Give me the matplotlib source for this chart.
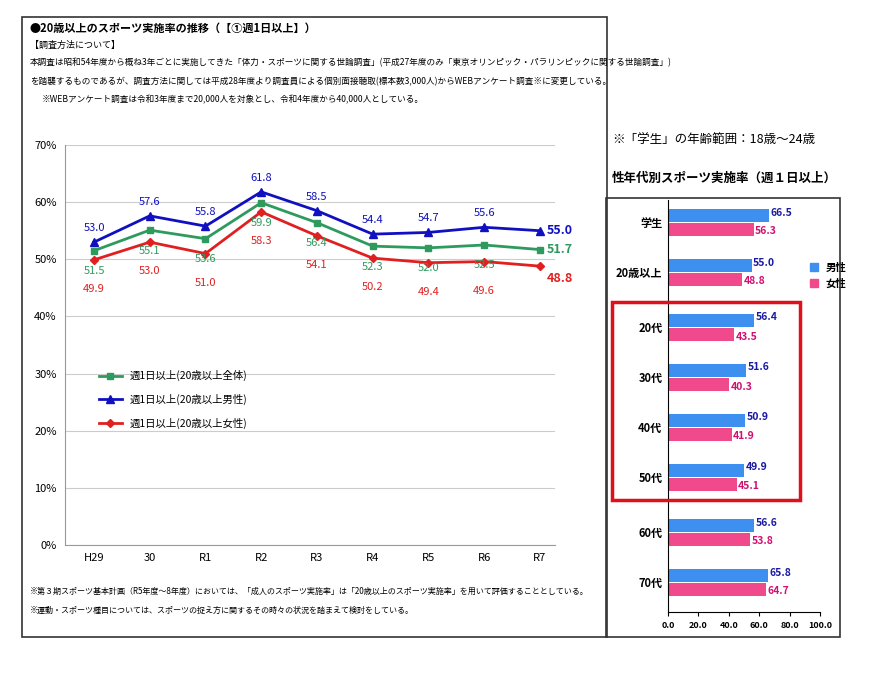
import matplotlib
matplotlib.use("Agg")
import matplotlib.pyplot as plt
from matplotlib.patches import Rectangle
from matplotlib.lines import Line2D

plt.rcParams['font.family'] = ['Noto Sans CJK JP', 'DejaVu Sans']

years = ["H29", "30", "R1", "R2", "R3", "R4", "R5", "R6", "R7"]
total = [51.5, 55.1, 53.6, 59.9, 56.4, 52.3, 52.0, 52.5, 51.7]
male = [53.0, 57.6, 55.8, 61.8, 58.5, 54.4, 54.7, 55.6, 55.0]
female = [49.9, 53.0, 51.0, 58.3, 54.1, 50.2, 49.4, 49.6, 48.8]

groups = ["学生", "20歳以上", "20代", "30代", "40代", "50代", "60代", "70代"]
g_male = [66.5, 55.0, 56.4, 51.6, 50.9, 49.9, 56.6, 65.8]
g_female = [56.3, 48.8, 43.5, 40.3, 41.9, 45.1, 53.8, 64.7]
g_pos = [0, 1, 2.1, 3.1, 4.1, 5.1, 6.2, 7.2]

W, H = 870, 674
fig = plt.figure(figsize=(8.7, 6.74), dpi=100)

def fx(px): return px / W
def fy(py): return 1 - py / H

# left frame
fig.patches.append(Rectangle((fx(22), fy(637)), fx(585), (620) / H, transform=fig.transFigure,
                             fill=False, edgecolor='#333333', lw=1.2))
fig.text(fx(30), fy(28), "●20歳以上のスポーツ実施率の推移（【①週1日以上】）", fontsize=8, fontweight='bold', va='center')
fig.text(fx(30), fy(45), "【調査方法について】", fontsize=6.5, va='center')
fig.text(fx(30), fy(63), "本調査は昭和54年度から概ね3年ごとに実施してきた「体力・スポーツに関する世論調査」(平成27年度のみ「東京オリンピック・パラリンピックに関する世論調査」)",
         fontsize=6.2, va='center')
fig.text(fx(30), fy(82), "を踏襲するものであるが、調査方法に関しては平成28年度より調査員による個別面接聴取(標本数3,000人)からWEBアンケート調査※に変更している。",
         fontsize=6.2, va='center')
fig.text(fx(42), fy(100), "※WEBアンケート調査は令和3年度まで20,000人を対象とし、令和4年度から40,000人としている。", fontsize=6.2, va='center')
fig.text(fx(30), fy(591), "※第３期スポーツ基本計画（R5年度～8年度）においては、「成人のスポーツ実施率」は「20歳以上のスポーツ実施率」を用いて評価することとしている。",
         fontsize=5.8, va='center')
fig.text(fx(30), fy(610), "※運動・スポーツ種目については、スポーツの捉え方に関するその時々の状況を踏まえて検討をしている。", fontsize=5.8, va='center')

ax = fig.add_axes([fx(65), fy(545), fx(490), 400 / H])
x = list(range(len(years)))
c_t, c_m, c_f = '#2e9a5e', '#1010c0', '#e02020'
ax.plot(x, total, color=c_t, marker='s', ms=5, lw=2, label="週1日以上(20歳以上全体)")
ax.plot(x, male, color=c_m, marker='^', ms=6, lw=2, label="週1日以上(20歳以上男性)")
ax.plot(x, female, color=c_f, marker='D', ms=4, lw=2, label="週1日以上(20歳以上女性)")
for i in x[:-1]:
    ax.text(i, male[i] + 1.6, f"{male[i]:.1f}", color=c_m, ha='center', va='bottom', fontsize=8)
    ax.text(i, total[i] - 2.7, f"{total[i]:.1f}", color=c_t, ha='center', va='top', fontsize=8)
    ax.text(i, female[i] - 4.2, f"{female[i]:.1f}", color=c_f, ha='center', va='top', fontsize=8)
i = x[-1]
ax.text(i + 0.12, male[i], f"{male[i]:.1f}", color=c_m, ha='left', va='center', fontsize=9, fontweight='bold')
ax.text(i + 0.12, total[i], f"{total[i]:.1f}", color=c_t, ha='left', va='center', fontsize=9, fontweight='bold')
ax.text(i + 0.12, female[i] - 1, f"{female[i]:.1f}", color=c_f, ha='left', va='top', fontsize=9, fontweight='bold')
ax.set_xlim(-0.52, 8.27)
ax.set_ylim(0, 70)
ax.set_yticks(range(0, 71, 10))
ax.set_yticklabels([f"{v}%" for v in range(0, 71, 10)], fontsize=8)
ax.set_xticks(x)
ax.set_xticklabels(years, fontsize=8)
ax.tick_params(length=0, pad=6)
ax.grid(axis='y', color='#cccccc', lw=0.8)
for s in ['top', 'right']:
    ax.spines[s].set_visible(False)
ax.spines['left'].set_color('#999999')
ax.spines['bottom'].set_color('#999999')
ax.set_axisbelow(True)
ax.legend(loc='upper left', bbox_to_anchor=(0.05, 0.46), frameon=False, fontsize=7.5,
          handlelength=2.2, labelspacing=1.2)

# right side
fig.text(fx(612), fy(140), "※「学生」の年齢範囲：18歳～24歳", fontsize=9, va='center')
fig.text(fx(612), fy(178), "性年代別スポーツ実施率（週１日以上）", fontsize=9, fontweight='bold', va='center')
fig.patches.append(Rectangle((fx(606), fy(637)), fx(234), 439 / H, transform=fig.transFigure,
                             fill=False, edgecolor='#333333', lw=1.2))
fig.patches.append(Rectangle((fx(612), fy(500)), fx(188), 198 / H, transform=fig.transFigure,
                             fill=False, edgecolor='#e0101a', lw=2.5))

bx = fig.add_axes([fx(668), fy(612), fx(152), 412 / H])
cm, cf = '#3d8ff0', '#f04a8c'
bh = 0.26
ym = [p - 0.14 for p in g_pos]
yf = [p + 0.14 for p in g_pos]
bx.barh(ym, g_male, height=bh, color=cm)
bx.barh(yf, g_female, height=bh, color=cf)
for a, b, v1, v2 in zip(ym, yf, g_male, g_female):
    bx.text(v1 + 1, a - 0.05, f"{v1:.1f}", color='#1a1aa0', fontsize=7.5, fontweight='bold', va='center')
    bx.text(v2 + 1, b + 0.05, f"{v2:.1f}", color='#d01070', fontsize=7.5, fontweight='bold', va='center')
bx.set_ylim(7.8, -0.44)
bx.set_xlim(0, 100)
bx.set_yticks(g_pos)
bx.set_yticklabels(groups, fontsize=8, fontweight='bold')
bx.set_xticks(range(0, 101, 20))
bx.set_xticklabels([f"{v:.1f}" for v in range(0, 101, 20)], fontsize=6.5, fontweight='bold')
bx.tick_params(axis='y', length=0, pad=4)
bx.tick_params(axis='x', length=3)
for s in ['top', 'right']:
    bx.spines[s].set_visible(False)
handles = [Line2D([], [], marker='s', ls='', color=cm, ms=6), Line2D([], [], marker='s', ls='', color=cf, ms=6)]
bx.legend(handles, ["男性", "女性"], loc='upper left', bbox_to_anchor=(0.83, 0.87), frameon=False,
          handletextpad=0.1, labelspacing=0.5, prop={'weight': 'bold', 'size': 7.5})

fig.savefig("out.png", dpi=100)
